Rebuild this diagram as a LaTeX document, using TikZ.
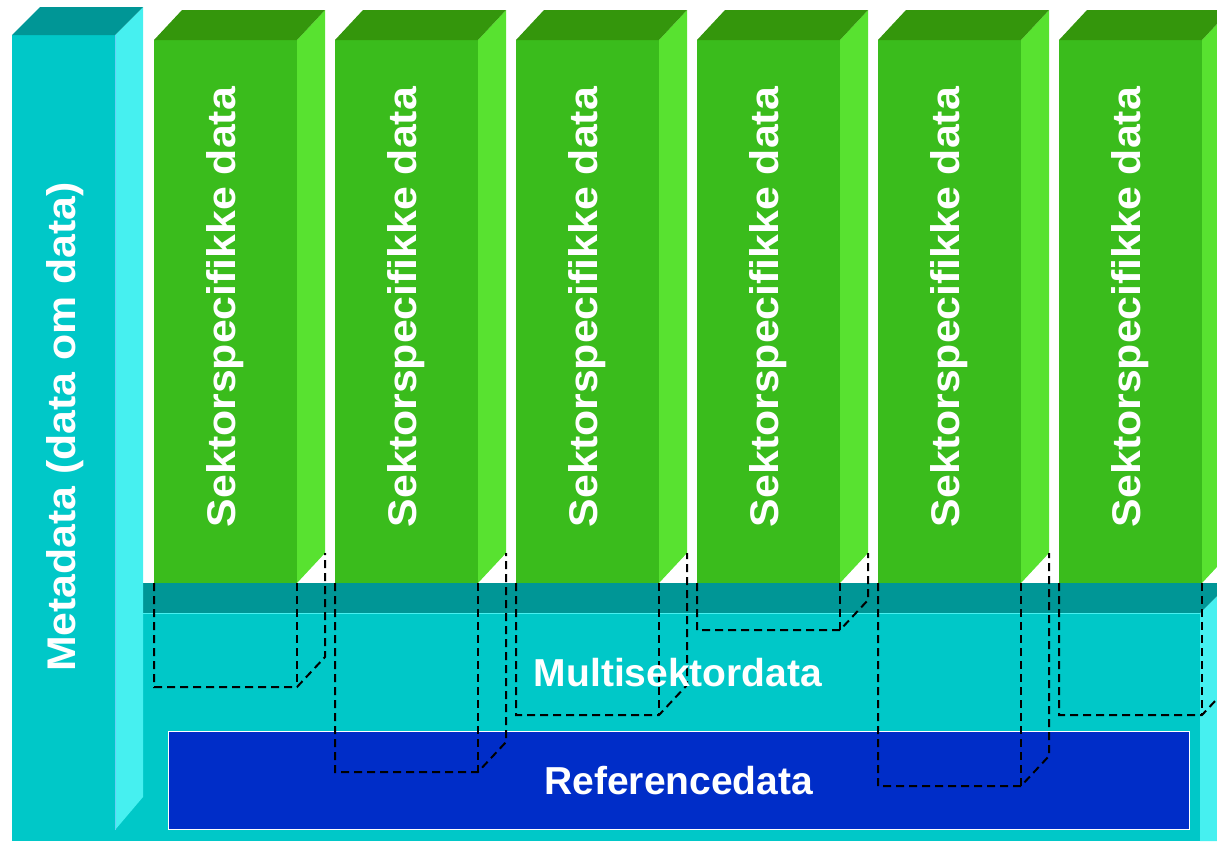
\documentclass[tikz,border=0pt]{standalone}
\usepackage{fontspec}
\setmainfont{Liberation Sans}
\newfontfamily\widesans{Liberation Sans}[FakeStretch=1.07]
\definecolor{metafront}{RGB}{0,200,200}
\definecolor{metaside}{RGB}{70,240,240}
\definecolor{metatop}{RGB}{0,150,150}
\definecolor{sectfront}{RGB}{58,188,28}
\definecolor{sectside}{RGB}{88,226,48}
\definecolor{secttop}{RGB}{52,150,12}
\definecolor{refblue}{RGB}{0,45,200}
\begin{document}
\begin{tikzpicture}[x=1pt,y=-1pt]
  \tikzstyle{label}=[text=white,inner sep=0pt,font=\bfseries\fontsize{39}{39}\selectfont]
  \tikzstyle{uplabel}=[label,rotate=90,font=\widesans\bfseries\fontsize{40}{40}\selectfont]
  \tikzstyle{hidden}=[line width=2pt,dash pattern=on 8pt off 5pt]
  \useasboundingbox (0,0) rectangle (1217,841);

  % multisektor slab
  \fill [metafront] (12,613) rectangle (1200,841);
  \fill [metaside] (1200,613) -- (1217,596) -- (1217,841) -- (1200,841) -- cycle;
  \fill [metatop] (143,583) -- (1217,583) -- (1217,596) -- (1200,613) -- (143,613) -- cycle;
  \draw [metaside,line width=1pt] (143,613.5) -- (1200,613.5);

  % metadata block
  \fill [metafront] (12,35) rectangle (115,830);
  \fill [metaside] (115,35) -- (143,7) -- (143,797) -- (115,830) -- cycle;
  \fill [metatop] (12,35) -- (40,7) -- (143,7) -- (115,35) -- cycle;
  \draw [cyan!60!white,line width=1pt] (115,35) -- (115,830);
  \node [uplabel] (meta) at (65,427) {Metadata (data om data)};

  % referencedata
  \node [draw=white,line width=1.5pt,fill=refblue,minimum width=1021pt,minimum height=98pt,
    label,anchor=north west] (ref) at (167.5,730.5) {};
  \node [label] (reftext) at (ref.center) {Referencedata};

  % sector columns
  \foreach \i/\b in {0/687,1/772,2/715,3/630,4/786,5/715} {
    \pgfmathsetmacro\xa{154+181*\i}
    \pgfmathsetmacro\xb{\xa+143}
    \pgfmathsetmacro\xc{\xb+28}
    \fill [sectfront] (\xa,40) rectangle (\xb,583);
    \fill [sectside] (\xb,40) -- (\xc,10) -- (\xc,553) -- (\xb,583) -- cycle;
    \fill [secttop] (\xa,40) -- ({\xa+28},10) -- (\xc,10) -- (\xb,40) -- cycle;
    \node [uplabel] (sector\i) at ({\xa+71.5},307) {Sektorspecifikke data};
    \draw [hidden] (\xa,583) -- (\xa,\b) -- (\xb,\b) -- (\xc,{\b-30}) -- (\xc,553);
    \draw [hidden] (\xb,583) -- (\xb,\b);
  }

  \node [label] (multi) at (678,673) {Multisektordata};
\end{tikzpicture}
\end{document}
